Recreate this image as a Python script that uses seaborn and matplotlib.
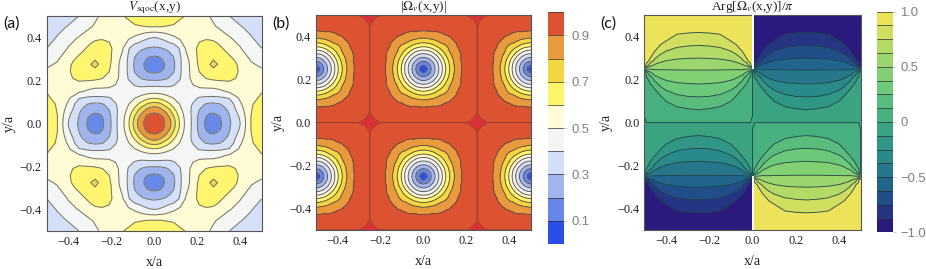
import numpy as np
import matplotlib
matplotlib.use("Agg")
import matplotlib.pyplot as plt
import seaborn as sns
from matplotlib.cm import ScalarMappable
from matplotlib.colors import BoundaryNorm, ListedColormap
from matplotlib.ticker import MultipleLocator

# (a) V_sqoc, one quadrant, value k..k+1 = k-th colour band
V_COORDS = [0, .015, .03, .045, .06, .075, .09, .12, .15, .18, .21, .24, .255, .275, .295, .31, .35, .4, .45, .5]
V_QUAD = [
    [9.2, 9.05, 8.6, 8.15, 7.6, 7.15, 6.45, 4.85, 3.6, 2.8, 1.65, .85, .58, .5, .68, .92, 1.85, 3.0, 5.0, 5.7],
    [9.05, 8.9, 8.45, 8.05, 7.5, 7.05, 6.35, 4.8, 3.6, 2.8, 1.65, .9, .63, .55, .72, .97, 1.9, 3.05, 5.0, 5.7],
    [8.6, 8.45, 8.25, 7.85, 7.35, 6.85, 6.15, 4.7, 3.55, 2.8, 1.7, 1.0, .78, .7, .85, 1.05, 1.95, 3.15, 5.0, 5.65],
    [8.15, 8.05, 7.85, 7.45, 7.0, 6.45, 5.75, 4.5, 3.5, 2.8, 1.82, 1.2, 1.0, .93, 1.08, 1.25, 2.05, 3.3, 4.98, 5.6],
    [7.6, 7.5, 7.35, 7.0, 6.75, 6.05, 5.4, 4.3, 3.45, 2.8, 1.95, 1.45, 1.3, 1.25, 1.35, 1.5, 2.15, 3.5, 4.95, 5.55],
    [7.15, 7.05, 6.85, 6.45, 6.05, 5.55, 5.0, 4.1, 3.42, 2.85, 2.15, 1.7, 1.58, 1.52, 1.62, 1.75, 2.3, 3.7, 4.92, 5.48],
    [6.45, 6.35, 6.15, 5.75, 5.4, 5.0, 4.75, 3.95, 3.4, 2.95, 2.35, 1.95, 1.85, 1.8, 1.9, 2.0, 2.4, 3.85, 4.9, 5.4],
    [4.85, 4.8, 4.7, 4.5, 4.3, 4.1, 3.95, 3.8, 3.5, 3.2, 2.95, 2.85, 2.85, 2.85, 2.85, 2.9, 3.1, 4.2, 4.7, 5.15],
    [3.6, 3.6, 3.55, 3.5, 3.45, 3.42, 3.4, 3.5, 3.55, 3.75, 3.75, 3.7, 3.68, 3.65, 3.75, 3.85, 4.2, 4.45, 4.55, 4.95],
    [2.8, 2.8, 2.8, 2.8, 2.8, 2.85, 2.95, 3.2, 3.75, 4.0, 4.2, 4.3, 4.35, 4.4, 4.5, 4.55, 4.75, 4.65, 4.45, 4.65],
    [1.65, 1.65, 1.7, 1.82, 1.95, 2.15, 2.35, 2.95, 3.75, 4.2, 4.85, 5.0, 5.1, 5.2, 5.25, 5.25, 5.2, 4.85, 4.35, 4.4],
    [.85, .9, 1.0, 1.2, 1.45, 1.7, 1.95, 2.85, 3.7, 4.3, 5.0, 5.55, 5.7, 5.8, 5.78, 5.7, 5.4, 4.9, 4.25, 4.15],
    [.58, .63, .78, 1.0, 1.3, 1.58, 1.85, 2.85, 3.68, 4.35, 5.1, 5.7, 5.9, 5.97, 5.95, 5.82, 5.42, 4.88, 4.2, 4.02],
    [.5, .55, .7, .93, 1.25, 1.52, 1.8, 2.85, 3.65, 4.4, 5.2, 5.8, 5.97, 6.12, 6.0, 5.85, 5.35, 4.85, 4.1, 3.85],
    [.68, .72, .85, 1.08, 1.35, 1.62, 1.9, 2.85, 3.75, 4.5, 5.25, 5.78, 5.95, 6.0, 5.88, 5.75, 5.25, 4.7, 3.95, 3.65],
    [.92, .97, 1.05, 1.25, 1.5, 1.75, 2.0, 2.9, 3.85, 4.55, 5.25, 5.7, 5.82, 5.85, 5.75, 5.6, 5.1, 4.45, 3.8, 3.45],
    [1.85, 1.9, 1.95, 2.05, 2.15, 2.3, 2.4, 3.1, 4.2, 4.75, 5.2, 5.4, 5.42, 5.35, 5.25, 5.1, 4.6, 4.05, 3.45, 3.0],
    [3.0, 3.05, 3.15, 3.3, 3.5, 3.7, 3.85, 4.2, 4.45, 4.65, 4.85, 4.9, 4.88, 4.85, 4.7, 4.45, 4.05, 3.7, 3.05, 2.7],
    [5.0, 5.0, 5.0, 4.98, 4.95, 4.92, 4.9, 4.7, 4.55, 4.45, 4.35, 4.25, 4.2, 4.1, 3.95, 3.8, 3.45, 3.05, 2.8, 2.4],
    [5.7, 5.7, 5.65, 5.6, 5.55, 5.48, 5.4, 5.15, 4.95, 4.65, 4.4, 4.15, 4.02, 3.85, 3.65, 3.45, 3.0, 2.7, 2.4, 2.2],
]
V_LEVELS = [0, 1, 2, 3, 4, 5, 6, 7, 8, 10]

# (b) |Omega|, one cell, distance from the vortex column (rows) and vortex row (columns)
ABS_DIST = [0, .015, .03, .045, .06, .08, .10, .12, .14, .16, .18, .20, .225, .25]
ABS_CELL = [
    [0, .083, .167, .25, .333, .45, .58, .69, .786, .853, .907, .93, .955, .9901],
    [.083, .117, .186, .263, .344, .456, .587, .695, .79, .856, .908, .932, .955, .9901],
    [.167, .186, .233, .30, .372, .48, .605, .71, .80, .863, .91, .935, .957, .9901],
    [.25, .263, .30, .355, .42, .525, .635, .73, .81, .87, .915, .938, .96, .9901],
    [.333, .344, .372, .42, .48, .58, .675, .76, .825, .875, .91, .94, .96, .9901],
    [.45, .456, .48, .525, .58, .65, .725, .795, .84, .885, .915, .942, .96, .9901],
    [.58, .587, .605, .635, .675, .725, .755, .82, .85, .90, .925, .945, .96, .9901],
    [.69, .695, .71, .73, .76, .795, .82, .84, .885, .91, .93, .95, .965, .9901],
    [.786, .79, .80, .81, .825, .84, .85, .885, .908, .93, .945, .955, .965, .9901],
    [.853, .856, .863, .87, .875, .885, .90, .91, .93, .95, .955, .96, .97, .9901],
    [.907, .908, .91, .915, .91, .915, .925, .93, .945, .955, .96, .965, .972, .9901],
    [.93, .932, .935, .938, .94, .942, .945, .95, .955, .96, .965, .97, .975, .9901],
    [.955, .955, .957, .96, .96, .96, .96, .965, .965, .97, .972, .975, .975, 1.01],
    [.9901, .9901, .9901, .9901, .9901, .9901, .9901, .9901, .9901, .9901, .9901, .9901, 1.01, 1.2],
]
ABS_LEVELS = [0, .1, .2, .3, .4, .5, .6, .7, .8, .9, .99, 1.0, 1.3]

# (c) Arg/pi in the upper right quadrant, left half of it, one list per x
ARG_X = [0, .01, .025, .05, .075, .1, .15, .2, .25]
ARG_Y = [0, .03, .06, .09, .12, .15, .18, .21, .235, .25, .265, .29, .32, .35, .38, .42, .46, .5]
ARG_COLS = [
    [0, 0, 0, 0, 0, 0, 0, 0, 0, -.5, -.99, -.99, -.99, -.99, -.99, -.99, -.99, -.99],
    [0, -.016, -.032, -.049, -.065, -.081, -.097, -.114, -.21, -.51, -.83, -.92, -.94, -.95, -.96, -.97, -.98, -.99],
    [0, -.018, -.037, -.055, -.074, -.092, -.11, -.175, -.36, -.51, -.65, -.865, -.91, -.93, -.95, -.97, -.98, -.99],
    [0, -.023, -.046, -.068, -.091, -.114, -.197, -.33, -.45, -.515, -.59, -.71, -.85, -.90, -.93, -.96, -.98, -.99],
    [0, -.028, -.057, -.085, -.114, -.186, -.29, -.385, -.46, -.51, -.57, -.655, -.755, -.855, -.90, -.94, -.97, -.99],
    [0, -.035, -.071, -.106, -.165, -.247, -.335, -.405, -.47, -.51, -.56, -.63, -.715, -.795, -.875, -.92, -.96, -.99],
    [0, -.049, -.097, -.155, -.226, -.29, -.36, -.43, -.475, -.51, -.55, -.61, -.685, -.75, -.82, -.89, -.94, -.985],
    [0, -.057, -.114, -.18, -.245, -.31, -.37, -.435, -.48, -.51, -.545, -.605, -.67, -.735, -.80, -.88, -.93, -.985],
    [0, -.0625, -.125, -.19, -.25, -.31, -.375, -.44, -.48, -.51, -.545, -.60, -.67, -.73, -.79, -.875, -.93, -.98],
]
ARG_LEVELS = np.arange(-1, 1.001, .125)

V_COLORS = ["#6688e8", "#9fb4ef", "#d4dffa", "#f4f5f5", "#fffbd4", "#fff56e",
            "#efd655", "#e8993c", "#dd5230"]
ABS_COLORS = ["#2a4fe8", "#6686ea", "#a0b4f0", "#d3defa", "#f3f4f4", "#fffbd6",
              "#fff56a", "#f3d640", "#e89a3c", "#dd5230", "#dd5230", "#d9303a"]
ARG_COLORS = sns.blend_palette(["#2a1a7e", "#1f5a8c", "#2a8a8a", "#3fa880", "#6cc97a", "#a5d86a", "#ece35a"], 16)

W, H = 926, 269
sns.set_theme(style="white")
plt.rcParams["font.family"] = ["Liberation Serif", "DejaVu Sans"]
plt.rcParams["mathtext.fontset"] = "stix"
plt.rcParams["axes.unicode_minus"] = True


def px_axes(fig, left, top, right, bottom):
    return fig.add_axes([left / W, 1 - bottom / H, (right - left) / W, (bottom - top) / H])


def style_map(ax, title, ylab_x):
    ax.set_xlim(-.5, .5)
    ax.set_ylim(-.5, .5)
    ax.set_aspect("auto")
    for a in (ax.xaxis, ax.yaxis):
        a.set_major_locator(MultipleLocator(.2))
        a.set_minor_locator(MultipleLocator(.05))
    ax.tick_params(which="major", direction="in", length=3.5, width=.6, color="#444444",
                   top=True, right=True, bottom=True, left=True,
                   labelsize=8.8, labelcolor="#222222", pad=3.5)
    ax.tick_params(which="minor", direction="in", length=1.8, width=.4, color="#444444",
                   top=True, right=True, bottom=True, left=True)
    ax.set_xticks([-.4, -.2, 0, .2, .4])
    ax.set_yticks([-.4, -.2, 0, .2, .4])
    for s in ax.spines.values():
        s.set_color("#555555")
        s.set_linewidth(.8)
    ax.set_title(title, fontsize=9.6, pad=.5, color="#222222")
    ax.set_xlabel("x/a", fontsize=10, color="#222222", labelpad=6)
    ax.set_ylabel("y/a", fontsize=10, color="#222222")
    ax.yaxis.set_label_coords(ylab_x, .5)


def bar_axes(fig, box, levels, colors, ticks, labels):
    cax = px_axes(fig, *box)
    norm = BoundaryNorm(levels, len(colors))
    sm = ScalarMappable(norm=norm, cmap=ListedColormap(colors))
    cb = fig.colorbar(sm, cax=cax, spacing="proportional")
    cb.set_ticks(ticks, labels=labels)
    cb.ax.minorticks_off()
    cb.outline.set_visible(False)
    cb.ax.tick_params(length=2.5, width=.5, color="#bbbbbb", labelsize=9.4, labelcolor="#808080", pad=3)
    for t in cb.ax.get_yticklabels():
        t.set_family("Liberation Sans")
    for lev in levels:
        cb.ax.axhline(lev, color="#2b2b2b", lw=.7, alpha=.7)
    return cb


def mirror(q):
    row = np.hstack((q[:, :0:-1], q))
    return np.vstack((row[:0:-1], row))


fig = plt.figure(figsize=(W / 100, H / 100), dpi=100)

# (a)
ax_a = px_axes(fig, 46.7, 16, 261.7, 231)
c = np.array(V_COORDS)
xa = np.r_[-c[:0:-1], c]
za = mirror(np.array(V_QUAD))
ax_a.contourf(xa, xa, za, levels=V_LEVELS, colors=V_COLORS)
ax_a.contour(xa, xa, za, levels=V_LEVELS[1:-1], colors="#77776a", linewidths=.75)
style_map(ax_a, r"$V_{\mathrm{sqoc}}$(x,y)", -.145)

# (b)
ax_b = px_axes(fig, 316, 15.3, 531, 230)
d = np.array(ABS_DIST)
cell = np.array(ABS_CELL)
n = len(d)
col_idx = np.r_[np.arange(n), np.arange(n - 2, -1, -1)]
xb_half = np.r_[d, .5 - d[-2::-1]]
row_idx = np.r_[np.arange(n - 1, -1, -1), np.arange(1, n)]
yb_half = np.r_[.25 - d[::-1], .25 + d[1:]]
zb = mirror(cell[np.ix_(col_idx, row_idx)].T)
xb = np.r_[-xb_half[:0:-1], xb_half]
yb = np.r_[-yb_half[:0:-1], yb_half]
ax_b.contourf(xb, yb, zb, levels=ABS_LEVELS, colors=ABS_COLORS)
ax_b.contour(xb, yb, zb, levels=ABS_LEVELS[1:-3], colors="#5a5046", linewidths=.65)
ax_b.contour(xb, yb, zb, levels=[ABS_LEVELS[-3]], colors="#9a3f28", linewidths=.6)
style_map(ax_b, r"|$\Omega_v$(x,y)|", -.145)
bar_axes(fig, (548.3, 12.3, 564.3, 244), np.round(np.arange(0, 1.01, .1), 1),
         ABS_COLORS[:10], [.1, .3, .5, .7, .9], ["0.1", "0.3", "0.5", "0.7", "0.9"])

# (c)
ax_c = px_axes(fig, 644.3, 15.3, 860.7, 230)
ax_half = np.array(ARG_X)
x_right = np.r_[ax_half, .5 - ax_half[-2::-1]]
y_up = np.array(ARG_Y)
cols = np.array(ARG_COLS).T
z_up = np.hstack((cols, cols[:, -2::-1]))
for sx, sy in [(1, 1), (-1, 1), (1, -1), (-1, -1)]:
    z = z_up * sx * sy
    ax_c.contourf(sx * x_right, sy * y_up, z, levels=ARG_LEVELS, colors=ARG_COLORS)
    ax_c.contour(sx * x_right, sy * y_up, z, levels=ARG_LEVELS[1:-1], colors="#1d3d45",
                 linewidths=.7, linestyles="solid", alpha=.85)
ax_c.vlines(0, .25, .5, color="white", lw=1.4, zorder=3)
ax_c.vlines(0, -.5, -.25, color="white", lw=1.4, zorder=3)
style_map(ax_c, r"Arg[$\Omega_v$(x,y)]/$\pi$", -.145)
bar_axes(fig, (877, 11.7, 892.7, 232.3), ARG_LEVELS, ARG_COLORS,
         [-1, -.5, 0, .5, 1], ["\u22121.0", "\u22120.5", "0", "0.5", "1.0"])

for label, lx in [("(a)", 3), ("(b)", 272), ("(c)", 600)]:
    fig.text(lx / W, 1 - 24 / H, label, fontsize=11.5, family="Lato", color="#111111", va="center")

fig.savefig("out.png", dpi=100)
